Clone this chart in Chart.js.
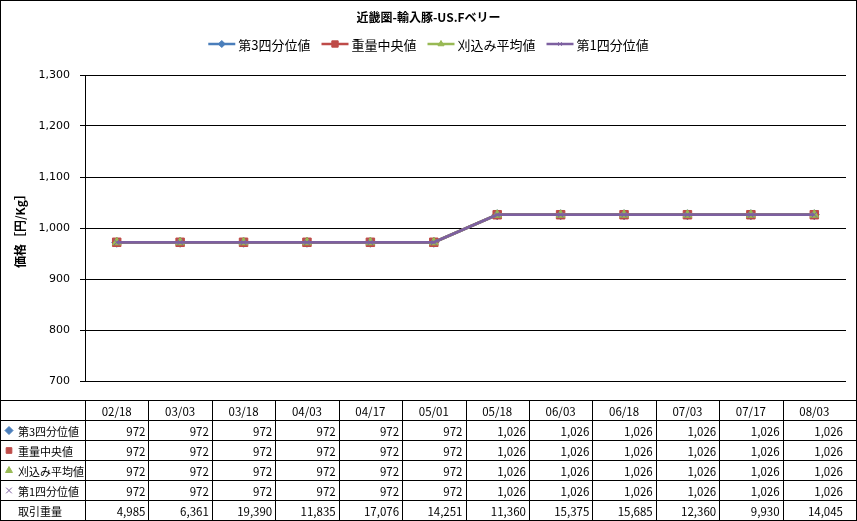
<!DOCTYPE html>
<html lang="ja">
<head>
<meta charset="utf-8">
<title>近畿圏-輸入豚-US.Fベリー</title>
<script src="https://cdn.jsdelivr.net/npm/chart.js@4.4.1/dist/chart.umd.min.js"></script>
<style>
  html, body { margin: 0; padding: 0; background: #fff; }
  #price-chart { display: block; }
</style>
</head>
<body>
<canvas id="price-chart" width="857" height="521"></canvas>
<script>
const chartTitle = '近畿圏-輸入豚-US.Fベリー';
const axisTitle = '価格［円/Kg］';

const dates = ['02/18', '03/03', '03/18', '04/03', '04/17', '05/01', '05/18', '06/03', '06/18', '07/03', '07/17', '08/03'];
const thirdQuartile = [972, 972, 972, 972, 972, 972, 1026, 1026, 1026, 1026, 1026, 1026];
const weightedMedian = [972, 972, 972, 972, 972, 972, 1026, 1026, 1026, 1026, 1026, 1026];
const trimmedMean = [972, 972, 972, 972, 972, 972, 1026, 1026, 1026, 1026, 1026, 1026];
const firstQuartile = [972, 972, 972, 972, 972, 972, 1026, 1026, 1026, 1026, 1026, 1026];
const tradeVolume = [4985, 6361, 19390, 11835, 17076, 14251, 11360, 15375, 15685, 12360, 9930, 14045];

const yMin = 700;
const yMax = 1300;
const yStep = 100;

const volumeLabel = '取引重量';
const jpFont = '"Noto Sans CJK JP", "Noto Sans", sans-serif';

class PriceChart {
  constructor() {
    this.canvas = document.getElementById('price-chart');
    this.series = [
      { label: '第3四分位値', data: thirdQuartile, color: '#4A7EBB', pointStyle: 'rectRot', radius: 5 },
      { label: '重量中央値', data: weightedMedian, color: '#BE4B48', pointStyle: 'rect', radius: 6 },
      { label: '刈込み平均値', data: trimmedMean, color: '#98B954', pointStyle: 'triangle', radius: 5 },
      { label: '第1四分位値', data: firstQuartile, color: '#7D60A0', pointStyle: 'crossRot', radius: 4 },
    ];
    this.render();
  }

  fmt(v) {
    return v.toLocaleString('en-US');
  }

  mark(ctx, s, x, y, radius) {
    ctx.save();
    ctx.fillStyle = s.color;
    ctx.strokeStyle = s.color;
    ctx.lineWidth = 1;
    Chart.helpers.drawPoint(ctx, { pointStyle: s.pointStyle, radius: radius, borderWidth: 1 }, x, y);
    ctx.restore();
  }

  drawHeader(chart) {
    const ctx = chart.ctx;
    ctx.save();
    ctx.fillStyle = '#000';
    ctx.textBaseline = 'middle';
    ctx.font = 'bold 12px ' + jpFont;
    ctx.textAlign = 'center';
    ctx.fillText(chartTitle, chart.width / 2, 17);

    // legend: short line with marker, then the name
    ctx.font = '13px ' + jpFont;
    const lineW = 27;
    const gap = 3;
    const spacing = 11;
    const widths = this.series.map((s) => lineW + gap + ctx.measureText(s.label).width);
    const total = widths.reduce((a, b) => a + b, 0) + spacing * (widths.length - 1);
    let x = chart.width / 2 - total / 2;
    const y = 44;
    ctx.textAlign = 'left';
    this.series.forEach((s, i) => {
      ctx.strokeStyle = s.color;
      ctx.lineWidth = 2.5;
      ctx.beginPath();
      ctx.moveTo(x, y);
      ctx.lineTo(x + lineW, y);
      ctx.stroke();
      this.mark(ctx, s, x + lineW / 2, y, s.radius - 1.5);
      ctx.fillStyle = '#000';
      ctx.fillText(s.label, x + lineW + gap, y + 1);
      x += widths[i] + spacing;
    });
    ctx.restore();
  }

  drawTable(chart) {
    const ctx = chart.ctx;
    const xs = chart.scales.x;
    const step = xs.getPixelForValue(1) - xs.getPixelForValue(0);
    const top = chart.chartArea.bottom + 19.5;
    const rowH = 20;
    const right = chart.width - 1;
    const bottom = chart.height - 0.5;
    const rows = this.series.map((s) => ({ label: s.label, values: s.data, s: s }));
    rows.push({ label: volumeLabel, values: tradeVolume, s: null });

    ctx.save();
    ctx.strokeStyle = '#000';
    ctx.lineWidth = 1;
    ctx.beginPath();
    for (let r = 0; r <= rows.length; r++) {
      const y = Math.min(top + r * rowH, bottom);
      ctx.moveTo(0, y);
      ctx.lineTo(right, y);
    }
    for (let i = 0; i < dates.length; i++) {
      const x = Math.round(xs.getPixelForValue(i) - step / 2) + 0.5;
      ctx.moveTo(x, top);
      ctx.lineTo(x, bottom);
    }
    ctx.stroke();

    ctx.fillStyle = '#000';
    ctx.textBaseline = 'middle';
    ctx.font = '11.5px ' + jpFont;
    ctx.textAlign = 'center';
    dates.forEach((d, i) => {
      ctx.fillText(d, xs.getPixelForValue(i), top + rowH / 2 + 1);
    });

    rows.forEach((row, r) => {
      const cy = top + rowH * (r + 1) + rowH / 2;
      if (row.s) this.mark(ctx, row.s, 9, cy, 4);
      ctx.fillStyle = '#000';
      ctx.font = '11px ' + jpFont;
      ctx.textAlign = 'left';
      ctx.fillText(row.label, 18, cy + 1);
      ctx.font = '11.5px ' + jpFont;
      ctx.textAlign = 'right';
      row.values.forEach((v, i) => {
        ctx.fillText(this.fmt(v), xs.getPixelForValue(i) + step / 2 - 3, cy + 1);
      });
    });

    // outer frame
    ctx.strokeRect(0.5, 0.5, chart.width - 1, chart.height - 1);
    ctx.restore();
  }

  render() {
    const self = this;
    const extras = {
      id: 'extras',
      afterDraw(chart) {
        self.drawHeader(chart);
        self.drawTable(chart);
      },
    };

    // last series on top, as in the original
    const datasets = this.series.map((s, i) => ({
      label: s.label,
      data: s.data,
      borderColor: s.color,
      backgroundColor: s.color,
      borderWidth: 2.75,
      pointStyle: s.pointStyle,
      pointRadius: s.radius,
      pointBorderWidth: 1,
      pointBorderColor: s.color,
      pointBackgroundColor: s.color,
      order: this.series.length - i,
      tension: 0,
    }));

    new Chart(this.canvas, {
      type: 'line',
      data: { labels: dates, datasets: datasets },
      options: {
        responsive: false,
        animation: false,
        layout: { padding: { top: 75, bottom: 140, left: 0, right: 11 } },
        plugins: {
          legend: { display: false },
          title: { display: false },
          tooltip: { enabled: false },
        },
        scales: {
          x: {
            display: false,
            offset: true,
          },
          y: {
            min: yMin,
            max: yMax,
            afterFit(scale) { scale.width = 85; },
            ticks: {
              stepSize: yStep,
              padding: 10,
              color: '#000',
              font: { family: 'DejaVu Sans', size: 11 },
              callback: (v) => v.toLocaleString('en-US'),
            },
            grid: { color: '#000', lineWidth: 1, tickLength: 5 },
            border: { display: true, color: '#000', width: 1 },
            title: {
              display: true,
              text: axisTitle,
              color: '#000',
              font: { family: jpFont, size: 12, weight: 'bold' },
              padding: { top: 13, bottom: 0 },
            },
          },
        },
      },
      plugins: [extras],
    });
  }
}

const priceChart = new PriceChart();
</script>
</body>
</html>
